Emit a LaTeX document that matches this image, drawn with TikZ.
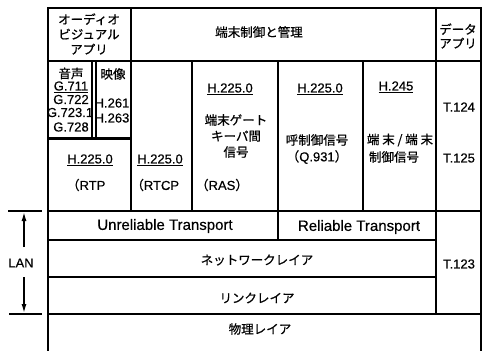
\documentclass[tikz,border=0pt]{standalone}
\usepackage{fontspec}
\setmainfont[FakeBold=0.4]{Liberation Sans}
\newfontfamily\jp[FakeBold=0.6]{Noto Sans CJK JP}
\usetikzlibrary{arrows.meta}
\begin{document}
\begin{tikzpicture}[x=1pt,y=-1pt,
  rule/.style={line width=2.2pt},
  thinrule/.style={line width=1.5pt},
  lat/.style={font=\fontsize{13}{14}\selectfont, inner sep=0pt},
  big/.style={font=\fontsize{15}{16}\selectfont, inner sep=0pt},
  jpt/.style={font=\jp\fontsize{12.5}{16}\selectfont, inner sep=0pt, align=center},
  lanarrow/.style={line width=1.4pt, -{Latex[length=9pt,width=5pt]}},
]
\useasboundingbox[fill=white] (0,0) rectangle (483,351);

% frame and grid
\draw[thinrule] (47,8) -- (482,8);
\draw[rule] (48,7.5) -- (48,351);
\draw[rule] (481,7.5) -- (481,351);
\draw[rule] (48,61) -- (481,61);
\draw[rule] (131,8) -- (131,211);
\draw[rule] (436,8) -- (436,314);
\draw[rule] (192,61) -- (192,211);
\draw[rule] (278,61) -- (278,240);
\draw[rule] (363,61) -- (363,211);
\draw[rule] (48,211) -- (481,211);
\draw[rule] (48,240) -- (436,240);
\draw[rule] (48,277) -- (436,277);
\draw[rule] (48,314) -- (481,314);
% audio / video boxes
\draw[rule] (92,61) -- (92,138);
\draw[rule] (96,61) -- (96,138);
\draw[rule] (48,138.5) -- (131,138.5);

% LAN marker
\coordinate (lanTopL) at (8,211);
\coordinate (lanTopR) at (42,211);
\coordinate (lanBotL) at (9,314);
\coordinate (lanBotR) at (42,314);
\coordinate (lanUpS) at (24,247);
\coordinate (lanUpE) at (24,212);
\coordinate (lanDnS) at (24,277);
\coordinate (lanDnE) at (24,313);
\draw[thinrule] (lanTopL) -- (lanTopR);
\draw[thinrule] (lanBotL) -- (lanBotR);
\draw[lanarrow] (lanUpS) -- (lanUpE);
\draw[lanarrow] (lanDnS) -- (lanDnE);
\node[lat] (lan) at (21,263) {LAN};

% top row
\node[jpt] (avapp) at (89,34) {オーディオ\\[-1pt]ビジュアル\\[-1pt]アプリ};
\node[jpt] (ctrl) at (259,32) {端末制御と管理};
\node[jpt, font=\jp\fontsize{12.5}{14}\selectfont] (dataapp) at (458,36) {データ\\アプリ};

% audio
\node[jpt] (onsei) at (71,73.5) {音声};
\node[lat] (g711) at (71,87) {\underline{G.711}};
\node[lat] (g722) at (71,99.5) {G.722};
\node[lat] (g7231) at (70,112.5) {G.723.1};
\node[lat] (g728) at (71,127) {G.728};
% video
\node[jpt] (eizo) at (113,74) {映像};
\node[lat] (h261) at (112,103) {H.261};
\node[lat] (h263) at (112,118) {H.263};

% RTP / RTCP
\node[lat] (h225a) at (90,160) {\underline{H.225.0}};
\node[lat] (rtp) at (86,185) {{\jp （}RTP};
\node[lat] (h225b) at (160,160) {\underline{H.225.0}};
\node[lat] (rtcp) at (155,185) {{\jp （}RTCP};

% RAS
\node[lat] (h225c) at (230,89) {\underline{H.225.0}};
\node[jpt] (ras) at (236,136) {端末ゲート\\キーパ間\\信号};
\node[lat] (rasl) at (222,185) {{\jp （}RAS{\jp ）}};

% Q.931
\node[lat] (h225d) at (320,89) {\underline{H.225.0}};
\node[jpt] (yobi) at (317,140) {呼制御信号};
\node[lat] (q931) at (317,157) {{\jp （}Q.931{\jp ）}};

% H.245
\node[lat] (h245) at (396,87) {\underline{H.245}};
\node[jpt] (tanmatsu) at (400,140) {端 末 / 端 末};
\node[jpt] (seigyo) at (394,157) {制御信号};

% T series
\node[lat] (t124) at (459,107) {T.124};
\node[lat] (t125) at (459,158) {T.125};
\node[lat] (t123) at (459,264) {T.123};

% transport and lower layers
\node[big] (unrel) at (165,226) {Unreliable Transport};
\node[big] (rel) at (359,227) {Reliable Transport};
\node[jpt] (net) at (257,260) {ネットワークレイア};
\node[jpt] (link) at (257,298) {リンクレイア};
\node[jpt] (phys) at (260,329) {物理レイア};
\end{tikzpicture}
\end{document}
